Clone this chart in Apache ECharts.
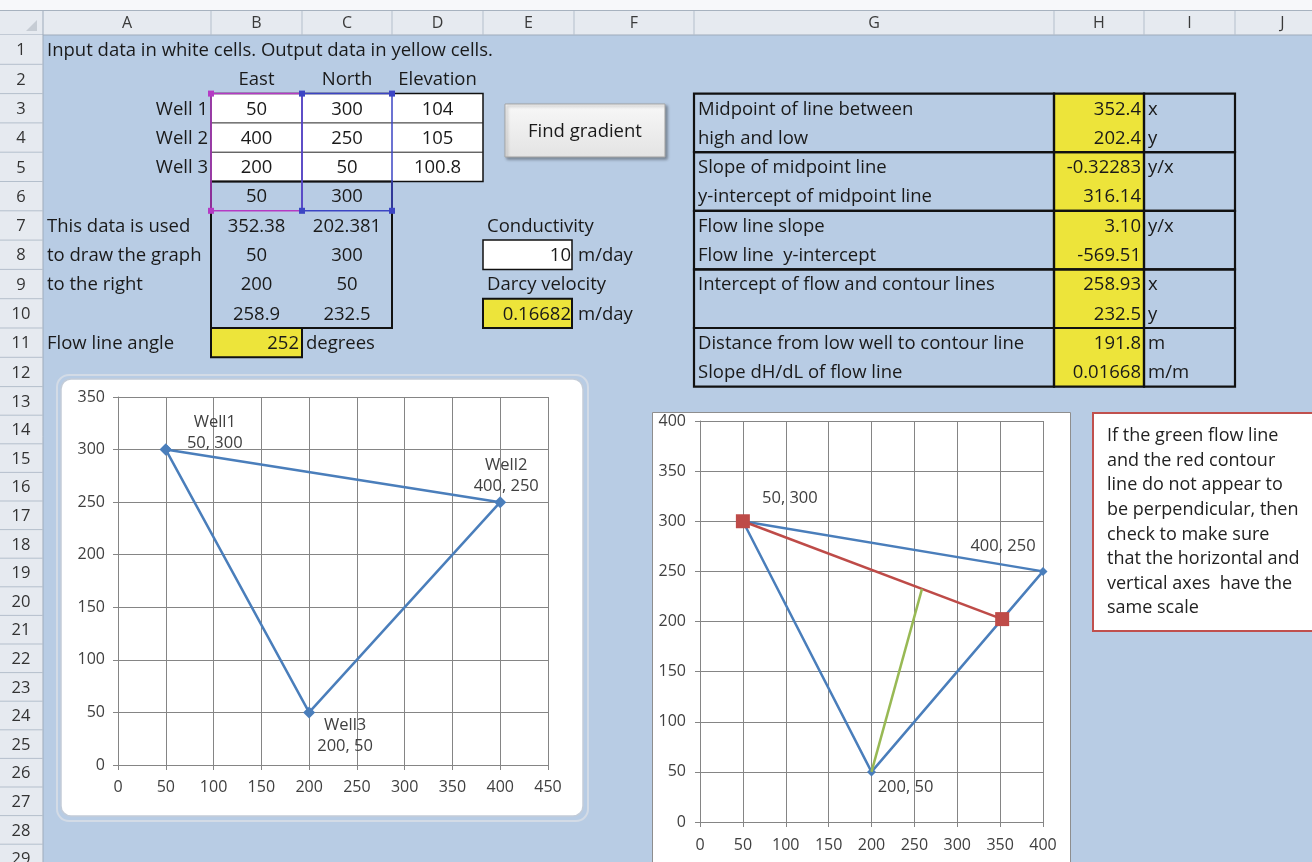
<!DOCTYPE html>
<html><head><meta charset="utf-8">
<script src="https://cdn.jsdelivr.net/npm/echarts@6/dist/echarts.min.js"></script>
<style>html,body{margin:0;padding:0;background:#fff;overflow:hidden}#c{width:1312px;height:862px;}</style>
</head><body><div id="c"></div><script>
// ---------------- DATA ----------------
const wellNames = ['Well1', 'Well2', 'Well3'];
const wellEast = [50, 400, 200];
const wellNorth = [300, 250, 50];
const wellElev = [104, 105, 100.8];
const triangleOrder = [0, 1, 2, 0];
const contourEast = [50, 352.38];
const contourNorth = [300, 202.381];
const flowEast = [200, 258.9];
const flowNorth = [50, 232.5];
const leftXMax = 450, leftYMax = 350, rightMax = 400, tickStep = 50;

const columnLetters = ['A', 'B', 'C', 'D', 'E', 'F', 'G', 'H', 'I', 'J'];
const graphRows = [['50', '300'], ['352.38', '202.381'], ['50', '300'], ['200', '50'], ['258.9', '232.5']];
const graphRowNotes = ['', 'This data is used', 'to draw the graph', 'to the right', ''];
const resultLabels = ['Midpoint of line between', 'high and low', 'Slope of midpoint line', 'y-intercept of midpoint line',
  'Flow line slope', 'Flow line  y-intercept', 'Intercept of flow and contour lines', '',
  'Distance from low well to contour line', 'Slope dH/dL of flow line'];
const resultValues = ['352.4', '202.4', '-0.32283', '316.14', '3.10', '-569.51', '258.93', '232.5', '191.8', '0.01668'];
const resultUnits = ['x', 'y', 'y/x', '', 'y/x', '', 'x', 'y', 'm', 'm/m'];
const noteLines = ['If the green flow line', 'and the red contour', 'line do not appear to', 'be perpendicular, then',
  'check to make sure', 'that the horizontal and', 'vertical axes  have the', 'same scale'];

// ---------------- LAYOUT ----------------
const FONT = "'Open Sans', Lato, sans-serif";
const SHEET_SIZE = 18.5;
const colLeft = {A: 43, B: 211, C: 302, D: 392, E: 483, F: 574, G: 694, H: 1054, I: 1144, J: 1235, K: 1330};
const nextCol = c => String.fromCharCode(c.charCodeAt(0) + 1);
const colRight = c => colLeft[nextCol(c)];
const rowTop = r => r <= 13 ? 35 + (r - 1) * 29.3 : 386.6 + (r - 13) * 28.6;
const rowMid = r => (rowTop(r) + rowTop(r + 1)) / 2 + 1;
const YEL = '#ede43a';
const TXT = '#1a1a1a';

const G = [];
function text(x, y, t, align, size, color, z) {
  return {type: 'text', x: x, y: y, z: z || 5, silent: true,
    style: {text: t, fill: color || TXT, font: (size || SHEET_SIZE) + 'px ' + FONT,
      textAlign: align || 'left', align: align || 'left', textVerticalAlign: 'middle', verticalAlign: 'middle'}};
}
function rect(x, y, w, h, fill, stroke, lw, z, r) {
  return {type: 'rect', z: z || 1, silent: true, shape: {x: x, y: y, width: w, height: h, r: r || 0},
    style: {fill: fill || 'none', stroke: stroke || 'none', lineWidth: lw || 1}};
}
function line(x1, y1, x2, y2, stroke, lw, z) {
  return {type: 'line', z: z || 2, silent: true, shape: {x1: x1, y1: y1, x2: x2, y2: y2}, style: {stroke: stroke, lineWidth: lw || 1}};
}
function cell(col, row, t, align) {
  let x;
  if (align === 'left') x = colLeft[col] + 4;
  else if (align === 'right') x = colRight(col) - 3;
  else x = (colLeft[col] + colRight(col)) / 2;
  G.push(text(x, rowMid(row), t, align));
}

// sheet chrome
G.push(rect(0, 0, 1312, 11, '#f7f8fa', null, 1, 0));
G.push(line(0, 10.5, 1312, 10.5, '#a7b2bf', 1, 1));
G.push(rect(0, 11, 1312, 24, '#e6eaf0', null, 1, 0));
G.push(line(0, 35, 1312, 35, '#9eabbb', 1, 1));
G.push(rect(0, 35, 43, 830, '#e6eaf0', null, 1, 0));
G.push(line(43, 11, 43, 862, '#9eabbb', 1, 1));
G.push({type: 'polygon', z: 2, silent: true, shape: {points: [[37, 20], [37, 31], [26, 31]]}, style: {fill: '#c6ccd4'}});
columnLetters.forEach(c => {
  G.push(line(colRight(c), 11, colRight(c), 35, '#b4bfcc', 1, 1));
  G.push(text((colLeft[c] + colRight(c)) / 2, 23, c, 'center', 16, '#3a3a3a'));
});
for (let r = 1; r <= 29; r++) {
  G.push(line(0, rowTop(r + 1), 43, rowTop(r + 1), '#b4bfcc', 1, 1));
  G.push(text(21, rowMid(r), String(r), 'center', 16.5, '#333'));
}

// input table
G.push(rect(211, rowTop(3), 272, rowTop(6) - rowTop(3), '#ffffff', '#111', 1.5, 1));
G.push(line(211, rowTop(4), 483, rowTop(4), '#222', 1, 2));
G.push(line(211, rowTop(5), 483, rowTop(5), '#222', 1, 2));
G.push(rect(211, rowTop(6), 181, rowTop(11) - rowTop(6), null, '#111', 2, 2));
G.push(rect(211, rowTop(3), 91, rowTop(7) - rowTop(3), null, '#b53ac4', 1.5, 3));
G.push(rect(302, rowTop(3), 90, rowTop(7) - rowTop(3), null, '#3c45c4', 1.5, 3));
[[211, '#b53ac4'], [302, '#3c45c4'], [392, '#3c45c4']].forEach(([x, c]) => {
  G.push(rect(x - 3, rowTop(3) - 3, 6, 6, c, null, 1, 4));
  G.push(rect(x - 3, rowTop(7) - 3, 6, 6, c, null, 1, 4));
});
G.push(rect(211, rowTop(11), 91, rowTop(12) - rowTop(11), YEL, '#111', 2, 2));
G.push(rect(483, rowTop(8), 89, rowTop(9) - rowTop(8), '#ffffff', '#111', 1.5, 2));
G.push(rect(483, rowTop(10), 89, rowTop(11) - rowTop(10), YEL, '#111', 2, 2));

// results table
G.push(rect(1054, rowTop(3), 90, rowTop(13) - rowTop(3), YEL, null, 1, 1));
[3, 5, 7, 9, 11].forEach(r => {
  ['G', 'H', 'I'].forEach(c => G.push(rect(colLeft[c], rowTop(r), colRight(c) - colLeft[c], rowTop(r + 2) - rowTop(r), null, '#111', 2.2, 2)));
});

// button
G.push({type: 'rect', z: 2, silent: true, shape: {x: 505, y: 104, width: 160, height: 53},
  style: {fill: new echarts.graphic.LinearGradient(0, 0, 0, 1, [{offset: 0, color: '#f8f8f8'}, {offset: 1, color: '#e3e3e3'}]),
    stroke: '#a5a5a5', lineWidth: 1, shadowBlur: 3, shadowOffsetX: 2, shadowOffsetY: 2, shadowColor: 'rgba(0,0,0,0.35)'}});
G.push(text(585, 132, 'Find gradient', 'center', 18.5));

// cell texts
cell('A', 1, 'Input data in white cells. Output data in yellow cells.', 'left');
cell('B', 2, 'East', 'center'); cell('C', 2, 'North', 'center'); cell('D', 2, 'Elevation', 'center');
for (let i = 0; i < 3; i++) {
  cell('A', 3 + i, 'Well ' + (i + 1), 'right');
  cell('B', 3 + i, String(wellEast[i]), 'center');
  cell('C', 3 + i, String(wellNorth[i]), 'center');
  cell('D', 3 + i, String(wellElev[i]), 'center');
}
graphRows.forEach((p, i) => {
  if (graphRowNotes[i]) cell('A', 6 + i, graphRowNotes[i], 'left');
  cell('B', 6 + i, p[0], 'center'); cell('C', 6 + i, p[1], 'center');
});
cell('A', 11, 'Flow line angle', 'left'); cell('B', 11, '252', 'right'); cell('C', 11, 'degrees', 'left');
cell('E', 7, 'Conductivity', 'left'); cell('E', 8, '10', 'right'); cell('F', 8, 'm/day', 'left');
cell('E', 9, 'Darcy velocity', 'left'); cell('E', 10, '0.16682', 'right'); cell('F', 10, 'm/day', 'left');
resultLabels.forEach((t, i) => {
  if (t) cell('G', 3 + i, t, 'left');
  cell('H', 3 + i, resultValues[i], 'right');
  if (resultUnits[i]) cell('I', 3 + i, resultUnits[i], 'left');
});

// chart areas
G.push(rect(57, 375, 531, 446, null, '#d3dbe6', 2, -2, 12));
G.push(rect(61, 379, 522, 437, '#ffffff', '#c3ccd8', 1.5, -1, 10));
G.push(rect(652.5, 412.5, 418, 460, '#ffffff', '#8e8e8e', 1, -1));
// note box
G.push(rect(1093, 413, 240, 218, '#ffffff', '#c0504d', 2, 1));
noteLines.forEach((t, i) => G.push(text(1107, 436 + i * 24.6, t, 'left', 18, '#222')));

// ---------------- CHART ----------------
const BLUE = '#4a7ebb', RED = '#be4b48', GREEN = '#98b954', GRID = '#858585';
const lblStyle = {color: '#404040', fontSize: 16.5, fontFamily: FONT, lineHeight: 21, position: 'inside', align: 'center', verticalAlign: 'middle'};
const leftOffsets = [[49, -17], [6, -26], [36, 23]];
const rightOffsets = [[47, -23], [-40, -25], [34, 15]];

function axis(max, gi, margin) {
  return {type: 'value', gridIndex: gi, min: 0, max: max, interval: tickStep,
    axisLine: {show: true, lineStyle: {color: GRID, width: 1}},
    axisTick: {show: true, inside: false, length: 5, lineStyle: {color: GRID}},
    splitLine: {show: true, lineStyle: {color: GRID, width: 1}},
    axisLabel: {color: '#404040', fontSize: 16, fontFamily: FONT, margin: margin}};
}

const leftTri = triangleOrder.map((i, k) => ({
  value: [wellEast[i], wellNorth[i]],
  label: k < 3 ? Object.assign({show: true, formatter: wellNames[i] + '\n' + wellEast[i] + ', ' + wellNorth[i], offset: leftOffsets[i]}, lblStyle) : {show: false}
}));
const rightTri = triangleOrder.map((i, k) => ({
  value: [wellEast[i], wellNorth[i]],
  label: k < 3 ? Object.assign({show: true, formatter: wellEast[i] + ', ' + wellNorth[i], offset: rightOffsets[i]}, lblStyle) : {show: false}
}));

const chart = echarts.init(document.getElementById('c'), null, {renderer: 'canvas', width: 1312, height: 862});
chart.setOption({
  animation: false,
  backgroundColor: '#b8cce4',
  graphic: {elements: G},
  grid: [
    {left: 118, top: 397, width: 430, height: 368, outerBoundsMode: 'none', containLabel: false},
    {left: 700, top: 421, width: 343, height: 401, outerBoundsMode: 'none', containLabel: false}
  ],
  xAxis: [axis(leftXMax, 0, 14), axis(rightMax, 1, 15)],
  yAxis: [axis(leftYMax, 0, 13), axis(rightMax, 1, 14)],
  series: [
    {type: 'line', xAxisIndex: 0, yAxisIndex: 0, data: leftTri, symbol: 'diamond', symbolSize: 12, clip: false,
      lineStyle: {color: BLUE, width: 2.5}, itemStyle: {color: BLUE}, z: 3},
    {type: 'line', xAxisIndex: 1, yAxisIndex: 1, data: rightTri, symbol: 'diamond', symbolSize: 9, clip: false,
      lineStyle: {color: BLUE, width: 2.5}, itemStyle: {color: BLUE}, z: 3},
    {type: 'line', xAxisIndex: 1, yAxisIndex: 1, data: contourEast.map((x, i) => [x, contourNorth[i]]), symbol: 'rect', symbolSize: 14, clip: false,
      lineStyle: {color: RED, width: 2.5}, itemStyle: {color: RED}, z: 4},
    {type: 'line', xAxisIndex: 1, yAxisIndex: 1, data: flowEast.map((x, i) => [x, flowNorth[i]]), symbol: 'none', clip: false,
      lineStyle: {color: GREEN, width: 2.5}, z: 4}
  ]
});
</script></body></html>
